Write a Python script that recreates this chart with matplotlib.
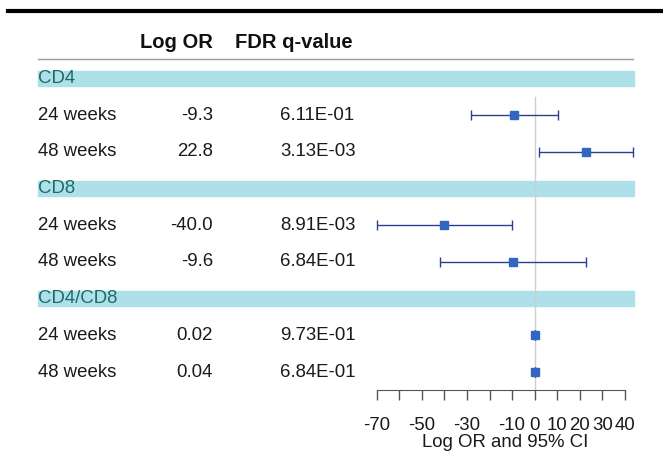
import matplotlib
matplotlib.use("Agg")
import matplotlib.pyplot as plt
import matplotlib.transforms as mtransforms
from matplotlib.patches import Rectangle
from matplotlib.lines import Line2D

plt.rcParams["font.family"] = ["Liberation Sans", "DejaVu Sans"]

groups = ["CD4", "CD8", "CD4/CD8"]
timepoints = ["24 weeks", "48 weeks"]
log_or = [-9.3, 22.8, -40.0, -9.6, 0.02, 0.04]
log_or_text = ["-9.3", "22.8", "-40.0", "-9.6", "0.02", "0.04"]
ci_low = [-28.4, 2.0, -70.0, -42.1, -0.03, -0.01]
ci_high = [10.2, 43.6, -9.9, 22.9, 0.07, 0.09]
q_values = ["6.11E-01", "3.13E-03", "8.91E-03", "6.84E-01", "9.73E-01", "6.84E-01"]
xticks = [-70, -60, -50, -40, -30, -20, -10, 0, 10, 20, 30, 40]
xticklabels = ["-70", "", "-50", "", "-30", "", "-10", "0", "10", "20", "30", "40"]

W, H = 663, 455
fig = plt.figure(figsize=(W / 100, H / 100), dpi=100)

# forest panel placed in pixel units
x0, x1 = 376.7, 634.0
y_top, y_bot = 59, 390
ax = fig.add_axes([x0 / W, 1 - y_bot / H, (x1 - x0) / W, (y_bot - y_top) / H])
row0, step = 78.5, 36.7
ax.set_xlim(-70, 44)
ax.set_ylim((y_bot - row0) / step, (y_top - row0) / step)

blend = mtransforms.blended_transform_factory(fig.transFigure, ax.transData)
def fx(px):
    return px / W

fs = 13.4
txt = "#1a1a1a"
row = 0
point_rows = []
for g_i, g in enumerate(groups):
    ax.add_patch(Rectangle((fx(38), row - 0.205), fx(634) - fx(38), 0.41,
                           transform=blend, color="#aee0e9", clip_on=False, zorder=0))
    ax.text(fx(38), row, g, transform=blend, ha="left", va="center",
            fontsize=fs, color="#1d6a6a", clip_on=False)
    row += 1
    for t_i, t in enumerate(timepoints):
        k = g_i * 2 + t_i
        ax.text(fx(38), row, t, transform=blend, ha="left", va="center", fontsize=fs, color=txt)
        ax.text(fx(213), row, log_or_text[k], transform=blend, ha="right", va="center", fontsize=fs, color=txt)
        ax.text(fx(280), row, q_values[k], transform=blend, ha="left", va="center", fontsize=fs, color=txt)
        point_rows.append(row)
        row += 1

# header
hy = (43 - row0) / step
ax.text(fx(213), hy, "Log OR", transform=blend, ha="right", va="center",
        fontsize=14.5, fontweight="bold", color="#111111")
ax.text(fx(235), hy, "FDR q-value", transform=blend, ha="left", va="center",
        fontsize=14.5, fontweight="bold", color="#111111")

# rules
fig.add_artist(Line2D([fx(8), 1], [1 - 11 / H, 1 - 11 / H], color="black", lw=3, transform=fig.transFigure))
fig.add_artist(Line2D([fx(38), fx(633)], [1 - 59 / H, 1 - 59 / H], color="#9a9a9a", lw=1, transform=fig.transFigure))

# zero line
ax.plot([0, 0], [0.5, ax.get_ylim()[0]], color="#cfcfcf", lw=1, zorder=1, clip_on=False)

# intervals and points
for k, r in enumerate(point_rows):
    ax.errorbar(log_or[k], r, xerr=[[log_or[k] - ci_low[k]], [ci_high[k] - log_or[k]]],
                fmt="none", ecolor="#2b3f8f", elinewidth=1, capsize=3.5, capthick=1, zorder=2, clip_on=False)
    ax.plot(log_or[k], r, marker="s", markersize=6.2, color="#3366c0", zorder=3, clip_on=False)

for s in ["top", "right", "left"]:
    ax.spines[s].set_visible(False)
ax.spines["bottom"].set_bounds(-70, 40)
ax.spines["bottom"].set_color("#555555")
ax.set_yticks([])
ax.set_xticks(xticks)
ax.set_xticklabels(xticklabels)
ax.tick_params(axis="x", direction="out", length=7.5, width=1, color="#555555",
               labelsize=fs, labelcolor=txt, pad=12)
ax.set_xlabel("Log OR and 95% CI", fontsize=fs, color=txt, labelpad=0)
ax.patch.set_visible(False)

fig.savefig("out.png", dpi=100)
